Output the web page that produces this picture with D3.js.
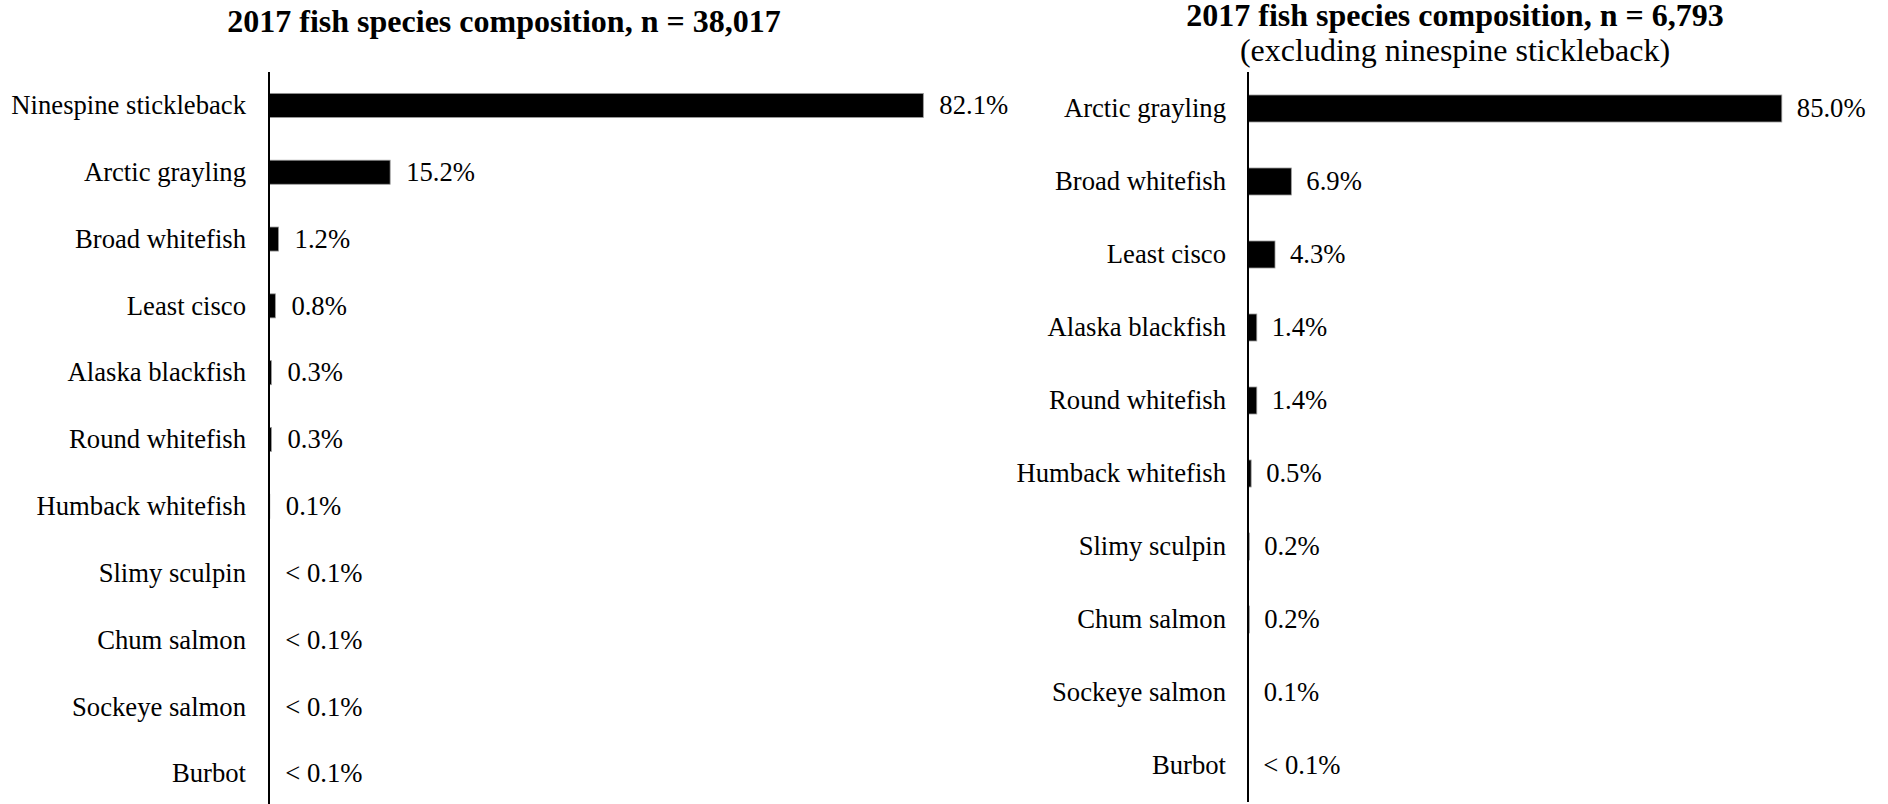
<!DOCTYPE html>
<html>
<head>
<meta charset="utf-8">
<script src="https://cdn.jsdelivr.net/npm/d3@7"></script>
<style>
  html, body { margin: 0; padding: 0; background: #fff; }
  svg { display: block; font-family: "Liberation Serif", "Times New Roman", serif; }
</style>
</head>
<body>
<svg id="chart" width="1888" height="804"></svg>
<script>
// ---- Data ----
const leftTitle = "2017 fish species composition, n = 38,017";
const leftSpecies = ["Ninespine stickleback", "Arctic grayling", "Broad whitefish", "Least cisco",
  "Alaska blackfish", "Round whitefish", "Humback whitefish", "Slimy sculpin",
  "Chum salmon", "Sockeye salmon", "Burbot"];
const leftValues = [82.1, 15.2, 1.2, 0.8, 0.3, 0.3, 0.1, 0.03, 0.03, 0.03, 0.03];
const leftLabels = ["82.1%", "15.2%", "1.2%", "0.8%", "0.3%", "0.3%", "0.1%",
  "< 0.1%", "< 0.1%", "< 0.1%", "< 0.1%"];

const rightTitle = "2017 fish species composition, n = 6,793";
const rightSubtitle = "(excluding ninespine stickleback)";
const rightSpecies = ["Arctic grayling", "Broad whitefish", "Least cisco", "Alaska blackfish",
  "Round whitefish", "Humback whitefish", "Slimy sculpin", "Chum salmon",
  "Sockeye salmon", "Burbot"];
const rightValues = [85.0, 6.9, 4.3, 1.4, 1.4, 0.5, 0.2, 0.2, 0.1, 0.04];
const rightLabels = ["85.0%", "6.9%", "4.3%", "1.4%", "1.4%", "0.5%", "0.2%", "0.2%",
  "0.1%", "< 0.1%"];

const svg = d3.select("#chart");

function panel(cfg) {
  const g = svg.append("g");
  const y = d3.scaleBand().domain(cfg.species)
    .range([cfg.y0, cfg.y1]).paddingInner(cfg.pad).paddingOuter(cfg.pad / 2);
  const x = d3.scaleLinear().domain([0, 100]).range([cfg.x0, cfg.x0 + cfg.w100]);
  const rows = cfg.species.map((s, i) => ({ s, v: cfg.values[i], l: cfg.labels[i] }));

  g.selectAll("rect.bar").data(rows).join("rect")
    .attr("class", "bar")
    .attr("x", x(0))
    .attr("y", d => y(d.s))
    .attr("width", d => x(d.v) - x(0))
    .attr("height", y.bandwidth())
    .attr("fill", "#000")
    .attr("stroke", "#9a9a9a")
    .attr("stroke-width", 0.8);

  // axis line (y axis without ticks)
  const axis = d3.axisLeft(y).tickSize(0).tickPadding(cfg.labelGap);
  const ag = g.append("g").attr("transform", `translate(${x(0)},0)`).call(axis);
  ag.select(".domain").attr("stroke", "#000").attr("stroke-width", 2)
    .attr("d", `M0,${cfg.y0}V${cfg.y1}`);
  ag.selectAll(".tick text")
    .attr("font-family", "Liberation Serif, Times New Roman, serif")
    .attr("font-size", 26.67).attr("fill", "#000").attr("dy", "0.33em");

  g.selectAll("text.val").data(rows).join("text")
    .attr("class", "val")
    .attr("x", d => x(d.v) + cfg.valGap)
    .attr("y", d => y(d.s) + y.bandwidth() / 2)
    .attr("dy", "0.33em")
    .attr("font-size", 26.67)
    .attr("fill", "#000")
    .text(d => d.l);

  g.append("text").attr("x", cfg.tx).attr("y", cfg.ty)
    .attr("text-anchor", "middle").attr("font-size", 32).attr("font-weight", "bold")
    .text(cfg.title);
  if (cfg.subtitle) {
    g.append("text").attr("x", cfg.tx).attr("y", cfg.sy)
      .attr("text-anchor", "middle").attr("font-size", 32)
      .text(cfg.subtitle);
  }
}

panel({
  species: leftSpecies, values: leftValues, labels: leftLabels,
  y0: 72, y1: 807, pad: 0.64, x0: 269, w100: 797,
  labelGap: 23, valGap: 16,
  title: leftTitle, tx: 504, ty: 32
});

panel({
  species: rightSpecies, values: rightValues, labels: rightLabels,
  y0: 72, y1: 802, pad: 0.63, x0: 1248, w100: 628,
  labelGap: 22, valGap: 15,
  title: rightTitle, subtitle: rightSubtitle, tx: 1455, ty: 26, sy: 61
});
</script>
</body>
</html>
